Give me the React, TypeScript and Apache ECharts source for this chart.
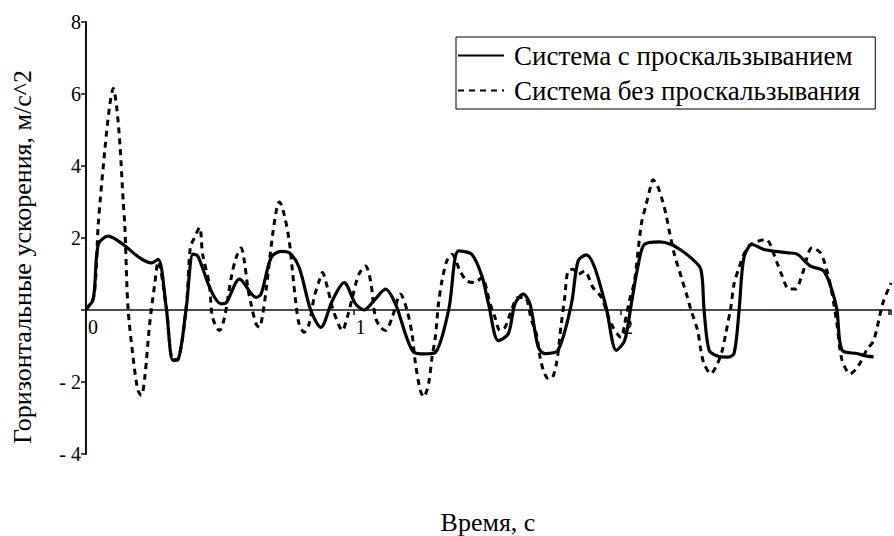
import React, { useEffect, useRef } from "react";
import * as echarts from "echarts";

const SERIES_NAMES = ["Система с проскальзыванием", "Система без проскальзывания"];
const X_TITLE = "Время, с";
const Y_TITLE = "Горизонтальные ускорения, м/с^2";
const Y_TICKS = [-4, -2, 0, 2, 4, 6, 8];
const X_TICKS = [0, 1, 2, 3];

// time (s), acceleration (m/s^2)
const withSlip: [number, number][] = [
  [0, 0.04], [0.027, 0.3], [0.046, 1.82], [0.083, 2.05], [0.139, 1.82], [0.201, 1.45],
  [0.245, 1.31], [0.27, 1.41], [0.3, 0.07], [0.325, -1.4], [0.344, -1.38], [0.375, 0.07],
  [0.4, 1.55], [0.418, 1.5], [0.468, 0.53], [0.505, 0.17], [0.524, 0.2], [0.574, 0.86],
  [0.636, 0.35], [0.655, 0.45], [0.692, 1.45], [0.729, 1.63], [0.76, 1.59], [0.797, 1.18],
  [0.84, 0], [0.878, -0.48], [0.921, 0.26], [0.965, 0.76], [1.008, 0.17], [1.039, 0],
  [1.077, 0.26], [1.12, 0.58], [1.157, 0.17], [1.225, -1.17], [1.268, -1.22], [1.305, -1.19],
  [1.356, 0], [1.393, 1.64], [1.442, 1.55], [1.48, 0.95], [1.505, 0.17], [1.542, -0.85],
  [1.579, -0.66], [1.604, 0.17], [1.635, 0.44], [1.66, 0.17], [1.691, -1.03], [1.716, -1.21],
  [1.765, -1.12], [1.815, 0.17], [1.84, 1.36], [1.871, 1.53], [1.902, 1.18], [1.945, 0.07],
  [1.983, -1.12], [2.014, -0.85], [2.039, 0.17], [2.063, 1.18], [2.088, 1.82], [2.144, 1.89],
  [2.188, 1.82], [2.225, 1.66], [2.262, 1.45], [2.299, 1.13], [2.311, 0], [2.33, -1.12],
  [2.361, -1.28], [2.398, -1.31], [2.423, -1.21], [2.442, 0], [2.46, 1.45], [2.491, 1.82],
  [2.535, 1.68], [2.622, 1.59], [2.659, 1.55], [2.709, 1.22], [2.759, 1.08], [2.79, 0.53],
  [2.808, 0], [2.827, -1.12], [2.883, -1.21], [2.92, -1.28], [2.945, -1.3],
];

const withoutSlip: [number, number][] = [
  [0, 0], [0.03, 0.4], [0.046, 2.4], [0.071, 4.49], [0.089, 5.7], [0.102, 6.15], [0.114, 5.68],
  [0.127, 4.59], [0.139, 3.02], [0.145, 2.37], [0.157, 0.07], [0.176, -1.31], [0.194, -2.23],
  [0.207, -2.37], [0.22, -1.86], [0.238, -0.39], [0.257, 0.72], [0.27, 1.35], [0.3, 0.07],
  [0.325, -1.38], [0.344, -1.36], [0.375, 0.1], [0.39, 1.73], [0.405, 2.0], [0.425, 2.29],
  [0.436, 1.55], [0.461, 0.72], [0.473, -0.2], [0.499, -0.57], [0.518, -0.2], [0.543, 0.9],
  [0.561, 1.45], [0.58, 1.72], [0.592, 1.36], [0.605, 0.62], [0.617, 0.17], [0.636, -0.39],
  [0.648, -0.48], [0.661, -0.11], [0.673, 0.53], [0.698, 2.1], [0.716, 2.93], [0.723, 3.0],
  [0.741, 2.65], [0.76, 1.91], [0.772, 1.08], [0.785, 0.17], [0.797, -0.39], [0.816, -0.62],
  [0.834, -0.39], [0.853, 0.35], [0.872, 0.81], [0.884, 1.04], [0.903, 0.62], [0.921, 0.07],
  [0.946, -0.43], [0.958, -0.57], [0.977, -0.2], [0.996, 0.35], [1.02, 0.99], [1.045, 1.22],
  [1.064, 0.81], [1.082, -0.2], [1.101, -0.48], [1.12, -0.57], [1.145, -0.2], [1.176, 0.44],
  [1.2, 0], [1.219, -0.66], [1.232, -1.49], [1.25, -2.23], [1.263, -2.41], [1.281, -2.04],
  [1.294, -1.31], [1.306, -0.76], [1.318, 0.17], [1.331, 0.81], [1.349, 1.36], [1.368, 1.55],
  [1.399, 1.08], [1.424, 0.81], [1.455, 0.76], [1.48, 0.9], [1.511, 0.17], [1.529, -0.2],
  [1.548, -0.57], [1.567, -0.48], [1.591, 0], [1.616, 0.35], [1.641, 0.35], [1.666, -0.29],
  [1.684, -0.66], [1.703, -1.49], [1.728, -1.9], [1.74, -1.9], [1.759, -1.49], [1.777, -0.39],
  [1.79, 0.35], [1.802, 1.08], [1.821, 1.13], [1.84, 0.99], [1.864, 1.08], [1.896, 0.62],
  [1.927, 0.35], [1.964, -0.39], [2.001, -0.76], [2.014, -0.39], [2.032, 0.26], [2.051, 0.81],
  [2.076, 2.37], [2.094, 2.92], [2.113, 3.48], [2.12, 3.62], [2.138, 3.43], [2.156, 3.02],
  [2.169, 2.65], [2.181, 2.19], [2.2, 1.55], [2.219, 1.08], [2.23, 0.81], [2.249, 0.35],
  [2.262, 0], [2.287, -0.57], [2.299, -1.12], [2.311, -1.49], [2.336, -1.77], [2.361, -1.49],
  [2.379, -1.12], [2.392, -0.66], [2.411, 0.07], [2.423, 0.72], [2.442, 1.18], [2.46, 1.55],
  [2.485, 1.82], [2.541, 1.96], [2.584, 1.31], [2.603, 0.95], [2.628, 0.58], [2.653, 0.58],
  [2.678, 0.99], [2.715, 1.73], [2.746, 1.59], [2.771, 1.08], [2.79, 0.44], [2.808, -0.39],
  [2.827, -1.4], [2.858, -1.77], [2.889, -1.54], [2.92, -1.1], [2.945, -0.85], [2.98, 0.2],
  [3.01, 0.75],
];

const FONT = "Liberation Serif";

export default function App() {
  const ref = useRef<HTMLDivElement>(null);
  useEffect(() => {
    if (!ref.current) return;
    const chart = echarts.init(ref.current, undefined, { renderer: "svg" });
    chart.setOption({
      animation: false,
      backgroundColor: "#ffffff",
      textStyle: { fontFamily: FONT },
      grid: { left: 86, top: 22, width: 808, height: 432, containLabel: false },
      legend: {
        orient: "vertical",
        left: 456,
        top: 37,
        data: SERIES_NAMES,
        itemWidth: 46,
        itemHeight: 14,
        itemGap: 8,
        padding: [5, 15, 5, 1],
        borderColor: "#000",
        borderWidth: 1,
        itemStyle: { opacity: 0 },
        textStyle: { fontFamily: FONT, fontSize: 27, color: "#000", lineHeight: 27, padding: [0, 0, 0, 5] },
      },
      xAxis: {
        type: "value",
        position: "bottom",
        offset: -144,
        min: X_TICKS[0],
        max: 3.01,
        interval: 1,
        axisLine: { onZero: false, lineStyle: { color: "#111", width: 1.5 } },
        axisTick: { show: true, length: 5, lineStyle: { color: "#111", width: 1.5 } },
        axisLabel: {
          fontFamily: FONT,
          fontSize: 20,
          color: "#000",
          align: "left",
          margin: 7,
          padding: [0, 0, 0, 2],
          formatter: (v: number) => (X_TICKS.includes(v) && v < 3 ? String(v) : ""),
        },
        splitLine: { show: false },
      },
      yAxis: {
        type: "value",
        min: Y_TICKS[0],
        max: Y_TICKS[Y_TICKS.length - 1],
        interval: 2,
        axisLine: { show: true, onZero: false, lineStyle: { color: "#111", width: 2 } },
        axisTick: { show: true, length: 5, lineStyle: { color: "#111", width: 1.5 } },
        axisLabel: {
          fontFamily: FONT,
          fontSize: 20,
          color: "#000",
          margin: 5,
          formatter: (v: number) => (v === 0 ? "" : v < 0 ? "- " + Math.abs(v) : String(v)),
        },
        splitLine: { show: false },
      },
      graphic: [
        {
          type: "text",
          x: 22,
          y: 257,
          rotation: Math.PI / 2,
          style: {
            text: Y_TITLE,
            font: `26px ${FONT}`,
            fill: "#000",
            align: "center",
            verticalAlign: "middle",
          },
        },
        {
          type: "text",
          x: 488,
          y: 522,
          style: {
            text: X_TITLE,
            font: `26px ${FONT}`,
            fill: "#000",
            align: "center",
            verticalAlign: "middle",
          },
        },
      ],
      series: [
        {
          name: SERIES_NAMES[0],
          type: "line",
          data: withSlip,
          symbol: "none",
          smooth: 0.3,
          lineStyle: { color: "#000", width: 3.2, type: "solid" },
          itemStyle: { color: "#000" },
          z: 3,
        },
        {
          name: SERIES_NAMES[1],
          type: "line",
          data: withoutSlip,
          symbol: "none",
          smooth: 0.3,
          lineStyle: { color: "#000", width: 3, type: [6, 5] },
          itemStyle: { color: "#000" },
          z: 2,
        },
      ],
    });
    return () => chart.dispose();
  }, []);
  return (
    <div
      ref={ref}
      style={{ position: "fixed", left: 0, top: 0, width: 894, height: 536, background: "#fff" }}
    />
  );
}
